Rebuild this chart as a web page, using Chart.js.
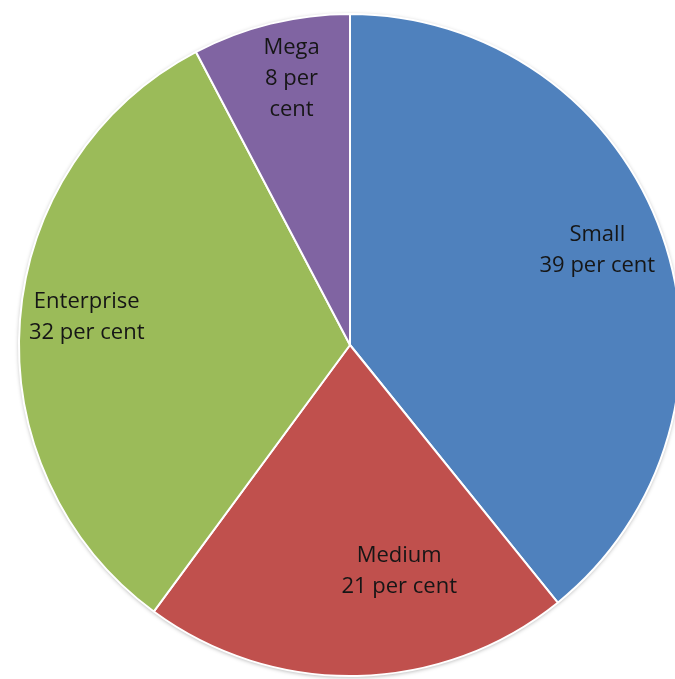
<!DOCTYPE html>
<html>
<head>
<meta charset="utf-8">
<script src="https://cdn.jsdelivr.net/npm/chart.js@4.4.0/dist/chart.umd.min.js"></script>
<style>
  html, body { margin: 0; padding: 0; background: #fff; overflow: hidden; }
  #wrap { position: relative; width: 700px; height: 679px; }
</style>
</head>
<body>
<div id="wrap"><canvas id="myChart"></canvas></div>
<script>
const categories = ['Small', 'Medium', 'Enterprise', 'Mega'];
// slice sizes; labels show them rounded
const shares = [39.2, 20.9, 32.2, 7.7];
const colours = ['#4F81BD', '#C0504D', '#9BBB59', '#8064A2'];

// where each label sits inside its slice (degrees off the middle, fraction of radius, wrap width)
const placement = [
    { turn: -1.5, depth: 0.80, wrap: 200 },
    { turn: -11.0, depth: 0.70, wrap: 200 },
    { turn: 1.8, depth: 0.80, wrap: 200 },
    { turn: 1.5, depth: 0.825, wrap: 70 }
];

function wrapText(ctx, text, maxWidth) {
    const words = text.split(' ');
    const lines = [];
    let line = '';
    for (let i = 0; i < words.length; i++) {
        const test = line ? line + ' ' + words[i] : words[i];
        if (line && ctx.measureText(test).width > maxWidth) {
            lines.push(line);
            line = words[i];
        } else {
            line = test;
        }
    }
    if (line) lines.push(line);
    return lines;
}

const shadowPlugin = {
    id: 'shadow',
    beforeDatasetsDraw(chart) {
        const arc = chart.getDatasetMeta(0).data[0];
        if (!arc) return;
        const ctx = chart.ctx;
        ctx.save();
        ctx.beginPath();
        ctx.arc(arc.x, arc.y, arc.outerRadius, 0, Math.PI * 2);
        ctx.fillStyle = '#fff';
        ctx.shadowColor = 'rgba(0,0,0,0.35)';
        ctx.shadowBlur = 4;
        ctx.shadowOffsetY = 1;
        ctx.fill();
        ctx.restore();
    }
};

const labelPlugin = {
    id: 'sliceLabels',
    afterDatasetsDraw(chart) {
        const ctx = chart.ctx;
        const meta = chart.getDatasetMeta(0);
        ctx.save();
        ctx.font = '22px "Open Sans"';
        ctx.fillStyle = '#161616';
        ctx.textAlign = 'center';
        ctx.textBaseline = 'middle';
        meta.data.forEach((arc, i) => {
            const p = placement[i];
            const mid = (arc.startAngle + arc.endAngle) / 2 + p.turn * Math.PI / 180;
            const r = arc.outerRadius * p.depth;
            const x = arc.x + Math.cos(mid) * r;
            const y = arc.y + Math.sin(mid) * r;
            const pct = Math.round(shares[i]) + ' per cent';
            let lines;
            if (p.wrap < 150) {
                lines = wrapText(ctx, categories[i] + ' ' + pct, p.wrap);
            } else {
                lines = [categories[i], pct];
            }
            const lh = 31;
            const top = y - (lines.length - 1) * lh / 2;
            lines.forEach((l, j) => ctx.fillText(l, x, top + j * lh));
        });
        ctx.restore();
    }
};

const ctx = document.getElementById('myChart').getContext('2d');

const graph = {
    type: 'pie',
    data: {
        labels: categories,
        datasets: [{
            data: shares,
            backgroundColor: colours,
            borderColor: '#ffffff',
            borderWidth: 2
        }]
    },
    options: {
        responsive: true,
        maintainAspectRatio: false,
        animation: false,
        layout: { padding: { top: 13, bottom: 2, left: 0, right: 0 } },
        plugins: {
            legend: { display: false },
            tooltip: { enabled: false }
        }
    },
    plugins: [shadowPlugin, labelPlugin]
};

const myChart = new Chart(ctx, graph);
</script>
</body>
</html>
